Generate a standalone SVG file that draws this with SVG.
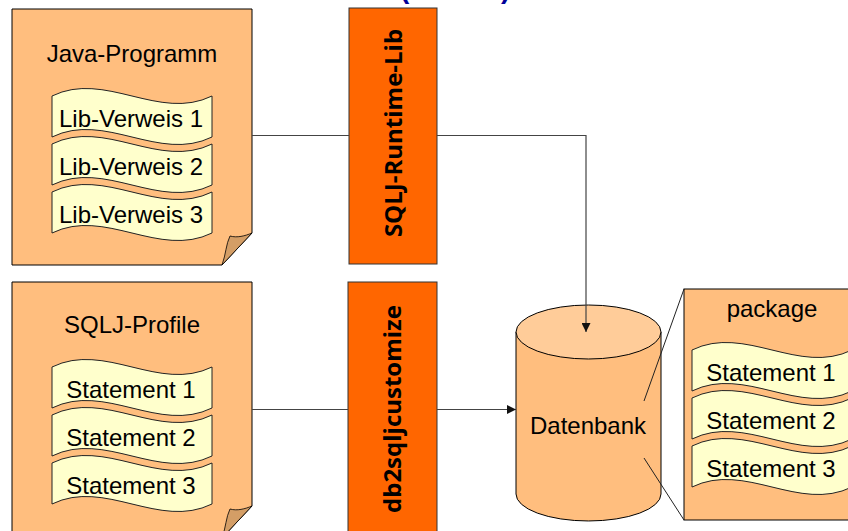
<svg xmlns="http://www.w3.org/2000/svg" width="848" height="531" viewBox="0 0 848 531">
  <defs>
    <style>
      .doc { fill: #FFBE7E; stroke: #000; stroke-width: 1; }
      .flap { fill: #D49E66; stroke: #000; stroke-width: 0.8; }
      .wave { fill: #FFFFCC; stroke: #222; stroke-width: 1; }
      .bar { fill: #FF6600; stroke: #333; stroke-width: 1; }
      .lbl { font-family: "Liberation Sans", Arial, sans-serif; font-size: 24px; fill: #000; text-anchor: middle; }
      .vlbl { font-family: "Open Sans", "DejaVu Sans", sans-serif; font-size: 24px; font-weight: bold; fill: #000; text-anchor: middle; }
      .conn { fill: none; stroke: #444; stroke-width: 1.2; }
      .zoomline { fill: none; stroke: #222; stroke-width: 1; }
      .title { font-family: "Liberation Sans", Arial, sans-serif; font-size: 28px; font-weight: bold; fill: #000099; }
    </style>
    <!-- wavy banner, 160 wide, 41 high -->
    <path id="wavy" d="M0,0 C53,-26 107,26 160,0 L160,41 C107,67 53,15 0,41 Z"/>
    <marker id="arrow" viewBox="0 0 10 10" refX="10" refY="5" markerWidth="9" markerHeight="9" markerUnits="userSpaceOnUse" orient="auto">
      <path d="M0,0 L10,5 L0,10 Z" fill="#111"/>
    </marker>
  </defs>

  <!-- heading parentheses, clipped at the top edge -->
  <text class="title" x="400" y="-2">(</text>
  <text class="title" x="501" y="-2">)</text>

  <!-- Java program document -->
  <g id="java-programm">
    <path class="doc" d="M12,9 H252 V233 L222,265 H12 Z"/>
    <path class="flap" d="M222,265 C226,254 226,244 230,236 C237,238 245,236 252,233 Z"/>
    <text class="lbl" x="132" y="62">Java-Programm</text>
    <g transform="translate(52,96)">
      <use href="#wavy" class="wave"/>
      <text class="lbl" x="79" y="31">Lib-Verweis 1</text>
    </g>
    <g transform="translate(52,144)">
      <use href="#wavy" class="wave"/>
      <text class="lbl" x="79" y="31">Lib-Verweis 2</text>
    </g>
    <g transform="translate(52,192)">
      <use href="#wavy" class="wave"/>
      <text class="lbl" x="79" y="31">Lib-Verweis 3</text>
    </g>
  </g>

  <!-- SQLJ profile document -->
  <g id="sqlj-profile">
    <path class="doc" d="M12,282 H252 V506 L222,538 H12 Z"/>
    <path class="flap" d="M222,538 C226,527 226,517 230,509 C237,511 245,509 252,506 Z"/>
    <text class="lbl" x="132" y="333">SQLJ-Profile</text>
    <g transform="translate(52,367)">
      <use href="#wavy" class="wave"/>
      <text class="lbl" x="79" y="31">Statement 1</text>
    </g>
    <g transform="translate(52,415)">
      <use href="#wavy" class="wave"/>
      <text class="lbl" x="79" y="31">Statement 2</text>
    </g>
    <g transform="translate(52,463)">
      <use href="#wavy" class="wave"/>
      <text class="lbl" x="79" y="31">Statement 3</text>
    </g>
  </g>

  <!-- runtime library bar -->
  <g id="runtime-lib">
    <rect class="bar" x="349" y="8" width="88" height="256"/>
    <text class="vlbl" transform="translate(402,133) rotate(-90)" x="0" y="0">SQLJ-Runtime-Lib</text>
  </g>

  <!-- customizer bar -->
  <g id="customize">
    <rect class="bar" x="348" y="282" width="89" height="260"/>
    <text class="vlbl" transform="translate(401,409) rotate(-90)" x="0" y="0">db2sqljcustomize</text>
  </g>

  <!-- database cylinder -->
  <g id="datenbank">
    <path class="doc" d="M516,332 V494 A72.5,27 0 0 0 661,494 V332 Z"/>
    <ellipse cx="588.5" cy="332" rx="72.5" ry="27" fill="#FFCC99" stroke="#000" stroke-width="1"/>
    <text class="lbl" x="588" y="434">Datenbank</text>
  </g>

  <!-- package -->
  <g id="package">
    <rect class="doc" x="684" y="289" width="200" height="231"/>
    <text class="lbl" x="772" y="317">package</text>
    <g transform="translate(692,350)">
      <use href="#wavy" class="wave"/>
      <text class="lbl" x="79" y="31">Statement 1</text>
    </g>
    <g transform="translate(692,398)">
      <use href="#wavy" class="wave"/>
      <text class="lbl" x="79" y="31">Statement 2</text>
    </g>
    <g transform="translate(692,446)">
      <use href="#wavy" class="wave"/>
      <text class="lbl" x="79" y="31">Statement 3</text>
    </g>
  </g>

  <!-- connectors, drawn last so the arrowheads sit on top of the shapes -->
  <g id="connectors">
    <line class="conn" x1="252" y1="135.5" x2="349" y2="135.5"/>
    <polyline class="conn" points="437,135.5 586,135.5 586,332" marker-end="url(#arrow)"/>
    <line class="conn" x1="252" y1="409.5" x2="348" y2="409.5"/>
    <line class="conn" x1="437" y1="409.5" x2="516" y2="409.5" marker-end="url(#arrow)"/>
    <!-- zoom lines from the database to the package -->
    <line class="zoomline" x1="644" y1="401" x2="684" y2="289"/>
    <line class="zoomline" x1="644" y1="458" x2="684" y2="520"/>
  </g>
</svg>
